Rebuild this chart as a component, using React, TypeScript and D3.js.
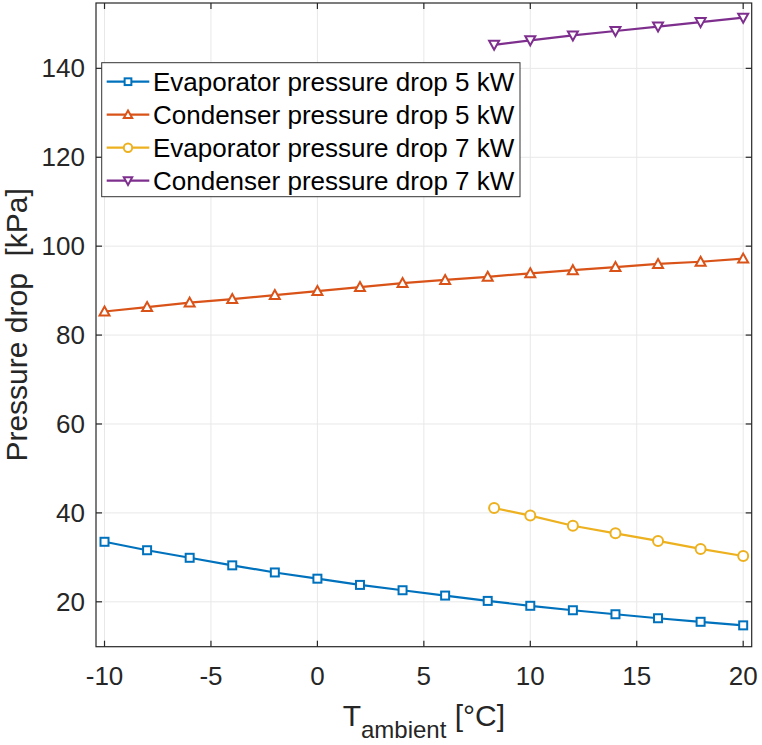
import React from 'react';
import * as d3 from 'd3';

// ambient temperatures [°C]
const tempsLow = [-10, -8, -6, -4, -2, 0, 2, 4, 6, 8, 10, 12, 14, 16, 18, 20];
const tempsHigh = [8.3, 10, 12, 14, 16, 18, 20];

// pressure drops [kPa]
const evap5 = [33.5, 31.6, 29.9, 28.2, 26.6, 25.2, 23.8, 22.6, 21.4, 20.2, 19.1, 18.1, 17.2, 16.3, 15.5, 14.7];
const cond5 = [85.3, 86.3, 87.3, 88.1, 89.0, 89.9, 90.8, 91.7, 92.4, 93.1, 93.9, 94.6, 95.3, 96.0, 96.5, 97.2];
const evap7 = [41.1, 39.4, 37.1, 35.4, 33.7, 31.9, 30.3];
const cond7 = [145.3, 146.3, 147.4, 148.4, 149.4, 150.4, 151.4];

const xTicks = [-10, -5, 0, 5, 10, 15, 20];
const yTicks = [20, 40, 60, 80, 100, 120, 140];

type Marker = 'square' | 'triUp' | 'circle' | 'triDown';

const series: { name: string; x: number[]; y: number[]; color: string; marker: Marker }[] = [
  { name: 'Evaporator pressure drop 5 kW', x: tempsLow, y: evap5, color: '#0072BD', marker: 'square' },
  { name: 'Condenser pressure drop 5 kW', x: tempsLow, y: cond5, color: '#D95319', marker: 'triUp' },
  { name: 'Evaporator pressure drop 7 kW', x: tempsHigh, y: evap7, color: '#EDB120', marker: 'circle' },
  { name: 'Condenser pressure drop 7 kW', x: tempsHigh, y: cond7, color: '#7E2F8E', marker: 'triDown' },
];

const W = 762;
const H = 745;
const plot = { left: 96, right: 751.7, top: 3, bottom: 646.7 };
const font = '"Liberation Sans", Arial, Helvetica, sans-serif';
const ink = '#262626';

const x = d3.scaleLinear().domain([-10.4, 20.4]).range([plot.left, plot.right]);
const y = d3.scaleLinear().domain([9.9, 154.7]).range([plot.bottom, plot.top]);

function MarkerShape({ kind, cx, cy, color, s }: { kind: Marker; cx: number; cy: number; color: string; s: number }) {
  const common = { fill: '#fff', stroke: color, strokeWidth: 2 };
  if (kind === 'square') {
    return <rect x={cx - s * 0.8} y={cy - s * 0.8} width={s * 1.6} height={s * 1.6} {...common} />;
  }
  if (kind === 'circle') {
    return <circle cx={cx} cy={cy} r={s} {...common} />;
  }
  const d = kind === 'triUp' ? s : -s;
  const pts = [
    [cx, cy - d],
    [cx + s, cy + d * 0.8],
    [cx - s, cy + d * 0.8],
  ];
  return <polygon points={pts.map(p => p.join(',')).join(' ')} {...common} />;
}

export default function App() {
  const line = d3.line<[number, number]>().x(d => x(d[0])).y(d => y(d[1]));
  const tick = 6;

  const legend = { x: 101.7, y: 62.7, w: 418.3, h: 134, row0: 81.7, step: 33 };

  return (
    <div style={{ position: 'absolute', left: 0, top: 0 }}>
      <svg width={W} height={H} style={{ display: 'block', background: '#fff' }}>
        {/* grid */}
        <g stroke="#e8e8e8" strokeWidth={1}>
          {xTicks.map(t => (
            <line key={'gx' + t} x1={x(t)} x2={x(t)} y1={plot.top} y2={plot.bottom} />
          ))}
          {yTicks.map(t => (
            <line key={'gy' + t} x1={plot.left} x2={plot.right} y1={y(t)} y2={y(t)} />
          ))}
        </g>

        {/* series */}
        {series.map(s => {
          const pts = s.x.map((v, i) => [v, s.y[i]] as [number, number]);
          return (
            <g key={s.name}>
              <path d={line(pts) || ''} fill="none" stroke={s.color} strokeWidth={2.2} />
              {pts.map((p, i) => (
                <MarkerShape key={i} kind={s.marker} cx={x(p[0])} cy={y(p[1])} color={s.color} s={5} />
              ))}
            </g>
          );
        })}

        {/* axes box with inward ticks */}
        <rect x={plot.left} y={plot.top} width={plot.right - plot.left} height={plot.bottom - plot.top}
          fill="none" stroke={ink} strokeWidth={1.2} />
        <g stroke={ink} strokeWidth={1.2}>
          {xTicks.map(t => (
            <g key={'tx' + t}>
              <line x1={x(t)} x2={x(t)} y1={plot.bottom} y2={plot.bottom - tick} />
              <line x1={x(t)} x2={x(t)} y1={plot.top} y2={plot.top + tick} />
            </g>
          ))}
          {yTicks.map(t => (
            <g key={'ty' + t}>
              <line x1={plot.left} x2={plot.left + tick} y1={y(t)} y2={y(t)} />
              <line x1={plot.right} x2={plot.right - tick} y1={y(t)} y2={y(t)} />
            </g>
          ))}
        </g>

        {/* tick labels */}
        <g fontFamily={font} fontSize={26} fill={ink}>
          {xTicks.map(t => (
            <text key={'lx' + t} x={x(t)} y={plot.bottom + 38} textAnchor="middle">{t}</text>
          ))}
          {yTicks.map(t => (
            <text key={'ly' + t} x={plot.left - 11} y={y(t) + 9} textAnchor="end">{t}</text>
          ))}
        </g>

        {/* axis labels */}
        <text x={(plot.left + plot.right) / 2} y={726} textAnchor="middle" fontFamily={font} fontSize={30} fill={ink}>
          <tspan>T</tspan>
          <tspan fontSize={24} dy={12}>ambient</tspan>
          <tspan dy={-12}> [°C]</tspan>
        </text>
        <text transform={`translate(27, ${(plot.top + plot.bottom) / 2}) rotate(-90)`} textAnchor="middle"
          fontFamily={font} fontSize={30} fill={ink} style={{ whiteSpace: 'pre' }}>
          {'Pressure drop  [kPa]'}
        </text>

        {/* legend */}
        <rect x={legend.x} y={legend.y} width={legend.w} height={legend.h} fill="#fff" stroke="#333" strokeWidth={1} />
        {series.map((s, i) => {
          const cy = legend.row0 + i * legend.step;
          return (
            <g key={'lg' + s.name}>
              <line x1={106.7} x2={149.3} y1={cy} y2={cy} stroke={s.color} strokeWidth={2.2} />
              <MarkerShape kind={s.marker} cx={128} cy={cy} color={s.color} s={4.2} />
              <text x={153} y={cy + 9} fontFamily={font} fontSize={26} fill="#000">{s.name}</text>
            </g>
          );
        })}
      </svg>
    </div>
  );
}
